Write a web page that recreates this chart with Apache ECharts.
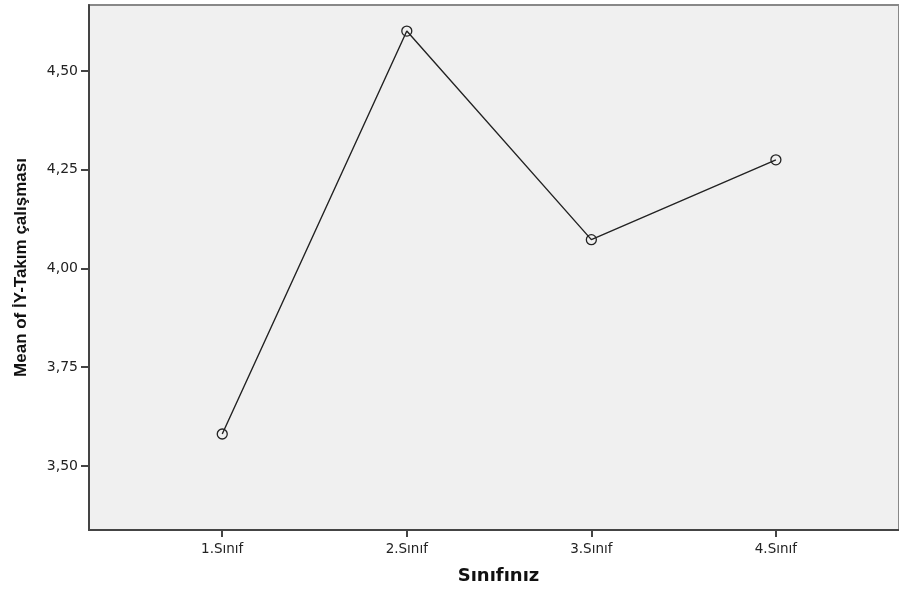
<!DOCTYPE html>
<html><head><meta charset="utf-8">
<script src="https://cdn.jsdelivr.net/npm/echarts@6/dist/echarts.min.js"></script>
<style>html,body{margin:0;padding:0;background:#fff}#c{width:899px;height:590px}</style>
</head><body><div id="c"></div>
<script>
const categories = ['1.Sınıf', '2.Sınıf', '3.Sınıf', '4.Sınıf'];
const meanValues = [3.581, 4.601, 4.073, 4.275];
const yTicks = [3.5, 3.75, 4.0, 4.25, 4.5];
const xTicks = [1, 2, 3, 4];

const chart = echarts.init(document.getElementById('c'), null, {renderer: 'canvas'});
chart.setOption({
  animation: false,
  backgroundColor: '#ffffff',
  grid: {left: 89, right: 0, top: 5, bottom: 60, show: true, backgroundColor: '#f0f0f0', borderColor: '#888', borderWidth: 2},
  xAxis: {
    type: 'value', min: 0.278, max: 4.667,
    name: 'Sınıfınız', nameLocation: 'middle', nameGap: 37,
    nameTextStyle: {fontFamily: 'DejaVu Sans', fontWeight: 'bold', fontSize: 18, color: '#111', padding: [0, 0, 0, 9]},
    splitLine: {show: false},
    axisLine: {show: true, lineStyle: {color: '#444', width: 2}},
    axisTick: {show: true, customValues: xTicks, length: 7, lineStyle: {color: '#444', width: 2}},
    axisLabel: {customValues: xTicks, formatter: v => categories[Math.round(v) - 1] || '', fontFamily: 'DejaVu Sans', fontSize: 13.5, color: '#222', margin: 12}
  },
  yAxis: {
    type: 'value', min: 3.338, max: 4.667,
    name: 'Mean of İY-Takım çalışması', nameLocation: 'middle', nameGap: 59, nameRotate: 90,
    nameTextStyle: {fontFamily: 'Liberation Sans', fontWeight: 'bold', fontSize: 17, color: '#111'},
    splitLine: {show: false},
    axisLine: {show: true, lineStyle: {color: '#444', width: 2}},
    axisTick: {show: true, customValues: yTicks, length: 8, lineStyle: {color: '#444', width: 2}},
    axisLabel: {customValues: yTicks, formatter: v => v.toFixed(2).replace('.', ','), fontFamily: 'DejaVu Sans', fontSize: 14, color: '#222', margin: 11}
  },
  series: [{
    type: 'line',
    data: meanValues.map((v, i) => [xTicks[i], v]),
    symbol: 'circle', symbolSize: 10,
    itemStyle: {color: 'rgba(0,0,0,0)', borderColor: '#222', borderWidth: 1.3},
    lineStyle: {color: '#222', width: 1.4}
  }]
});
</script></body></html>
